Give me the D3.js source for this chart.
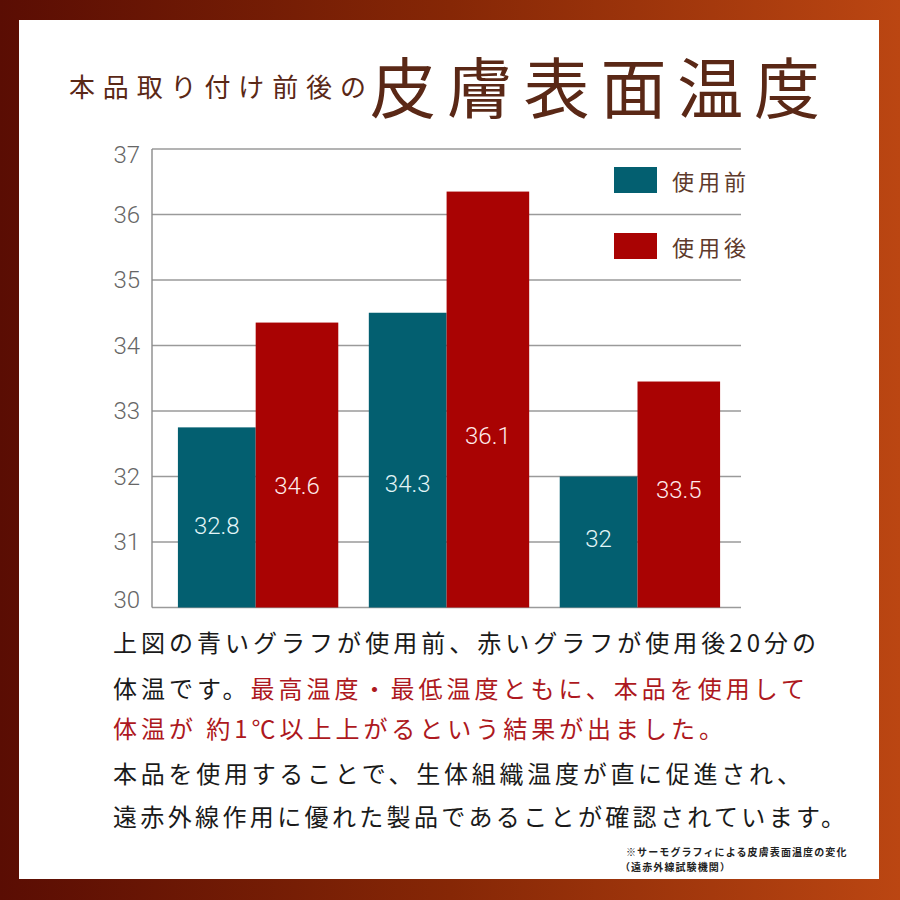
<!DOCTYPE html>
<html>
<head>
<meta charset="utf-8">
<script src="https://cdn.jsdelivr.net/npm/d3@7/dist/d3.min.js"></script>
<style>
  html, body { margin: 0; padding: 0; background: #fff; }
  svg { display: block; }
</style>
</head>
<body>
<svg id="chart" width="900" height="900"></svg>
<script>
// ---------- data ----------
const groups = ["測定1", "測定2", "測定3"];
const seriesNames = ["使用前", "使用後"];
const beforeValues = [32.75, 34.5, 32.0];     // drawn bar heights (teal)
const afterValues = [34.35, 36.35, 33.45];    // drawn bar heights (red)
const beforeLabels = ["32.8", "34.3", "32"];
const afterLabels = ["34.6", "36.1", "33.5"];
const beforeLabelLevels = [31.25, 31.88, 31.05]; // where the value text sits (°C)
const afterLabelLevels = [31.85, 32.62, 31.79];
const yTicks = [30, 31, 32, 33, 34, 35, 36, 37];

const titleSmall = "本品取り付け前後の";
const titleLarge = "皮膚表面温度";
const bodyLines = [
  [["上図の青いグラフが使用前、赤いグラフが使用後20分の", "k"]],
  [["体温です。", "k"], ["最高温度・最低温度ともに、本品を使用して", "r"]],
  [["体温が 約1℃以上上がるという結果が出ました。", "r"]],
  [["本品を使用することで、生体組織温度が直に促進され、", "k"]],
  [["遠赤外線作用に優れた製品であることが確認されています。", "k"]]
];
const footLines = ["※サーモグラフィによる皮膚表面温度の変化", "（遠赤外線試験機関）"];

// ---------- style ----------
const COL_BEFORE = "#035f70";
const COL_AFTER = "#a90303";
const COL_TITLE = "#5a2816";
const COL_RED_TEXT = "#ad1820";
const CJK = "'Noto Sans CJK JP', 'Noto Sans CJK SC', sans-serif";
const NUM = "Roboto, 'Liberation Sans', sans-serif";

const svg = d3.select("#chart");

// background gradient frame
const defs = svg.append("defs");
const grad = defs.append("linearGradient").attr("id", "frame")
  .attr("x1", "0%").attr("y1", "0%").attr("x2", "100%").attr("y2", "0%");
grad.append("stop").attr("offset", "0%").attr("stop-color", "#5a0d03");
grad.append("stop").attr("offset", "50%").attr("stop-color", "#862706");
grad.append("stop").attr("offset", "100%").attr("stop-color", "#bb4612");
svg.append("rect").attr("x", 0).attr("y", 0).attr("width", 900).attr("height", 900).attr("fill", "url(#frame)");
svg.append("rect").attr("x", 19).attr("y", 20).attr("width", 860).attr("height", 859).attr("fill", "#ffffff");

// helper: spread a text element so it spans a target width
function fitWidth(sel, target) {
  const node = sel.node();
  const w = node.getComputedTextLength();
  const n = Array.from(node.textContent).length;
  const ls = (target - w) / Math.max(1, n - 1);
  sel.attr("letter-spacing", ls);
}

// ---------- title ----------
const t1 = svg.append("text").attr("x", 69).attr("y", 85)
  .attr("dominant-baseline", "central")
  .attr("font-family", CJK).attr("font-size", 26).attr("fill", COL_TITLE)
  .text(titleSmall);
fitWidth(t1, 297);
const t2 = svg.append("text").attr("x", 370).attr("y", 84)
  .attr("dominant-baseline", "central")
  .attr("font-family", CJK).attr("font-size", 66).attr("fill", COL_TITLE)
  .text(titleLarge);
fitWidth(t2, 450);

// ---------- scales ----------
const plotLeft = 152, plotRight = 741, plotTop = 149, plotBottom = 607.5;
const y = d3.scaleLinear().domain([30, 37]).range([plotBottom, plotTop]);
const x0 = d3.scaleBand().domain(groups).range([155, 743]).paddingInner(0.16).paddingOuter(0.12);
// teal bar slightly narrower than red bar within each pair
const x1Start = d3.scaleOrdinal().domain(seriesNames).range([0, 0.485]);
const x1Frac = d3.scaleOrdinal().domain(seriesNames).range([0.485, 0.515]);
const bx = s => x1Start(s) * x0.bandwidth();
const bw = s => x1Frac(s) * x0.bandwidth();

// grid lines
svg.append("g").selectAll("line").data(yTicks).join("line")
  .attr("x1", plotLeft).attr("x2", plotRight)
  .attr("y1", d => y(d)).attr("y2", d => y(d))
  .attr("stroke", "#9a9a9a").attr("stroke-width", 1.4);

// y axis line
svg.append("line").attr("x1", plotLeft).attr("x2", plotLeft)
  .attr("y1", plotTop).attr("y2", plotBottom)
  .attr("stroke", "#8a8a8a").attr("stroke-width", 1.4);

// y tick labels
svg.append("g").selectAll("text").data(yTicks).join("text")
  .attr("x", 140)
  .attr("y", d => Math.min(Math.max(y(d), plotTop + 6), plotBottom - 8))
  .attr("text-anchor", "end").attr("dominant-baseline", "central")
  .attr("font-family", NUM).attr("font-weight", 300).attr("font-size", 24)
  .attr("fill", "#666")
  .text(d => d);

// bars
const rows = groups.map((g, i) => ({
  g,
  items: [
    { s: seriesNames[0], v: beforeValues[i], label: beforeLabels[i], lv: beforeLabelLevels[i], c: COL_BEFORE, tc: "#e2f5f7" },
    { s: seriesNames[1], v: afterValues[i], label: afterLabels[i], lv: afterLabelLevels[i], c: COL_AFTER, tc: "#ffeaea" }
  ]
}));

const gg = svg.append("g").selectAll("g").data(rows).join("g")
  .attr("transform", d => `translate(${x0(d.g)},0)`);

gg.selectAll("rect").data(d => d.items).join("rect")
  .attr("x", d => bx(d.s))
  .attr("width", d => bw(d.s))
  .attr("y", d => y(d.v))
  .attr("height", d => y(30) - y(d.v))
  .attr("fill", d => d.c);

gg.selectAll("text").data(d => d.items).join("text")
  .attr("x", d => bx(d.s) + bw(d.s) / 2)
  .attr("y", d => y(d.lv))
  .attr("text-anchor", "middle").attr("dominant-baseline", "central")
  .attr("font-family", NUM).attr("font-weight", 300).attr("font-size", 24)
  .attr("fill", d => d.tc)
  .text(d => d.label);

// legend
const legend = [
  { name: seriesNames[0], c: COL_BEFORE, ry: 167, ty: 180 },
  { name: seriesNames[1], c: COL_AFTER, ry: 233, ty: 246 }
];
const lg = svg.append("g");
lg.selectAll("rect").data(legend).join("rect")
  .attr("x", 614).attr("y", d => d.ry).attr("width", 43).attr("height", 26)
  .attr("fill", d => d.c);
lg.selectAll("text").data(legend).join("text")
  .attr("x", 672).attr("y", d => d.ty)
  .attr("dominant-baseline", "central")
  .attr("font-family", CJK).attr("font-size", 22).attr("letter-spacing", 4)
  .attr("fill", "#5e3a2c")
  .text(d => d.name);

// ---------- body text ----------
const lineY = [641, 687, 727, 772, 815];
const lineW = [703, 692, 610, 688, 732];
bodyLines.forEach((segs, i) => {
  const t = svg.append("text").attr("x", 113).attr("y", lineY[i])
    .attr("dominant-baseline", "central")
    .attr("font-family", CJK).attr("font-size", 24).attr("fill", "#1a1a1a");
  segs.forEach(([txt, col]) => {
    t.append("tspan").attr("fill", col === "r" ? COL_RED_TEXT : "#1a1a1a").text(txt);
  });
  fitWidth(t, lineW[i]);
});

// footnote
svg.append("text").attr("x", 626).attr("y", 851)
  .attr("dominant-baseline", "central")
  .attr("font-family", CJK).attr("font-weight", 700).attr("font-size", 10)
  .attr("letter-spacing", 1.1).attr("fill", "#222")
  .text(footLines[0]);
svg.append("text").attr("x", 620).attr("y", 866)
  .attr("dominant-baseline", "central")
  .attr("font-family", CJK).attr("font-weight", 700).attr("font-size", 10)
  .attr("letter-spacing", 1.1).attr("fill", "#222")
  .text(footLines[1]);
</script>
</body>
</html>
